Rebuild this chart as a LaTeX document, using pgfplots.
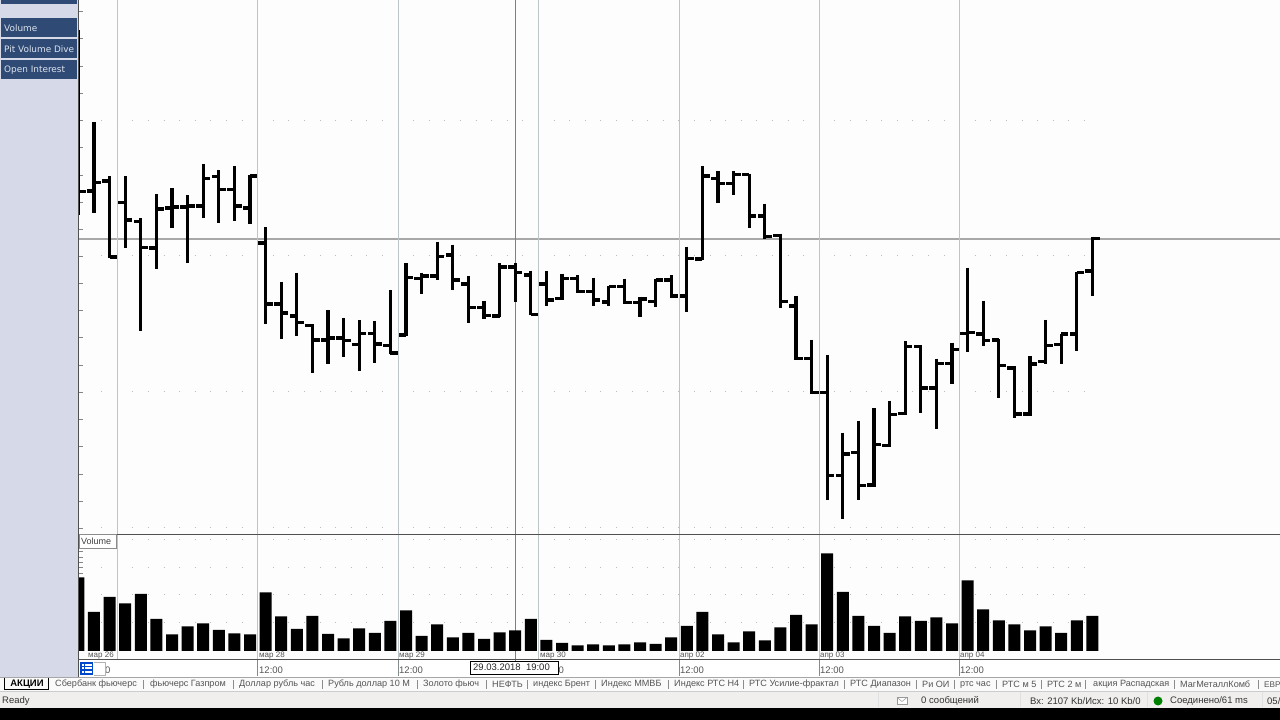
\documentclass[border=0pt]{standalone}
\usepackage{fontspec}
\setmainfont{Liberation Sans}
\newfontfamily\uifont{DejaVu Sans}
\usepackage{pgfplots}
\usepackage{pgfplotstable}
\pgfplotsset{compat=1.18}

\definecolor{panel}{HTML}{D5D9E8}
\definecolor{btn}{HTML}{2F4B75}
\definecolor{btntext}{HTML}{DCE3EE}
\definecolor{chartbg}{HTML}{FDFDFD}
\definecolor{gridv}{HTML}{BCC6C6}
\definecolor{cross}{HTML}{A8A8A8}
\definecolor{frameline}{HTML}{505050}
\definecolor{dots}{HTML}{BDBDBD}
\definecolor{tabtext}{HTML}{555555}
\definecolor{statusbg}{HTML}{F0EFEE}

% bars, prices in pixel rows of the chart (smaller = higher)
\pgfplotstableread{
i o h l c
0 191 30 215 191.5
1 191 122.5 213 182.5
2 181 176 258 257
3 202.5 176.5 248 220
4 221.5 218 331 247.5
5 248 194 269 209
6 208 188 228 207
7 207 195 263 206
8 206 164 218 178.5
9 176.5 170.5 223 189.5
10 189.5 166.5 221 206
11 208 175 224 176
12 243 227 324 304
13 304 281.5 338.5 313
14 316 272.5 336 322.5
15 325.5 324 372.5 340
16 340 310 364 338
17 338 318 357 340.5
18 344.5 320 371 333.5
19 333.5 321 363 344
20 345.5 290 354 353
21 335 263 335.5 277.5
22 278.5 272.5 294 276
23 276 241.5 280 256.5
24 255 244.5 290 280
25 284 276 322.5 307.5
26 307.5 300.5 319 315.5
27 316 263 316.5 267
28 267 263 301.5 272.5
29 275 270.5 315 314.5
30 284 271 305.5 300
31 298.5 273.5 300 278.5
32 278.5 275 292.5 291.5
33 291.5 277.5 305.5 300
34 302 286 305.5 286.5
35 286.5 278.5 304 302.5
36 302.5 296.5 316.5 299
37 301.5 278.5 306.5 280
38 280 275 297.5 296
39 296 246.5 311.5 258.5
40 259 166 259.5 176
41 178.5 171 202.5 183.5
42 183.5 171.5 195 174.5
43 174.5 174 227.5 216
44 216 203.5 238.5 236.5
45 235.5 233.5 307.5 301.5
46 306 295.5 359.5 358.5
47 358.5 339.5 393.5 392.5
48 392.5 354.5 499.5 475.5
49 475.5 432.5 519 454
50 452.5 420.5 499.5 485.5
51 485 408 486.5 444.5
52 445.5 400.5 446.5 414.5
53 413.5 341 414.5 346.5
54 346.5 345 412.5 388
55 388 358.5 428.5 363.5
56 363.5 342.5 384 349.5
57 333.5 267.5 352 332.5
58 334 300.5 345.5 340.5
59 340 339 398 365.5
60 368 366 418 414
61 414 356 415.5 364
62 361.5 319.5 363.5 345.5
63 344.5 333.5 363.5 334
64 334 271.5 350.5 272.5
65 271 236.5 296 238.5
}\ohlc

% volume, height of each bar in pixels above the baseline
\pgfplotstableread{
i v
0 73.5
1 39
2 54
3 47.5
4 57
5 32
6 16.5
7 24.5
8 27.5
9 21
10 17.5
11 16.5
12 58.5
13 34.5
14 22
15 35
16 17
17 12.5
18 22.5
19 18
20 30
21 40.5
22 15
23 26.5
24 13.5
25 18
26 12
27 18.5
28 20.5
29 32
30 11
31 8
32 5.5
33 6.5
34 5.5
35 6.5
36 8.5
37 7
38 13.5
39 25
40 39
41 16.5
42 8.5
43 19.5
44 10.5
45 23.5
46 36
47 26.5
48 97.5
49 59
50 35
51 25
52 18
53 34.5
54 30
55 33.5
56 27.5
57 70.5
58 41.5
59 30.5
60 26.5
61 20.5
62 24.5
63 18
64 30.5
65 35
}\volumes

\pgfplotsset{
  pane/.style={
    x=15.6pt, y=1pt,
    xmin=0.0385, xmax=77.03,
    scale only axis,
    axis line style={draw=none},
    xtick={2.5,11.5,20.5,29.5,38.5,47.5,56.5},
    xticklabels={},
    yticklabels={},
    xmajorgrids=true,
    grid style={gridv, line width=0.8pt},
    x tick style={draw=none},
    y tick style={frameline!70, line width=0.6pt},
    major tick length=4pt,
    tick align=inside,
    ytick pos=left,
    xtick pos=bottom,
    clip=true,
  },
}

\begin{document}
\begin{tikzpicture}[x=1pt,y=1pt]
\useasboundingbox (0,0) rectangle (1280,720);

\begin{scope}[shift={(0pt,720pt)},y=-1pt]
  % backgrounds
  \fill[chartbg] (79,0) rectangle (1280,660);
  \fill[white] (79,660) rectangle (1280,677);
  \fill[panel] (0,0) rectangle (79,677);
  \fill[white!98!black] (0,677) rectangle (1280,691);
  \fill[statusbg] (0,691) rectangle (1280,708);
  \fill[black] (0,708) rectangle (1280,720);

  % buttons of the left panel
  \fill[btn] (1,0) rectangle (77,4);
  \fill[btn] (1,18) rectangle (77,37);
  \fill[btn] (1,39) rectangle (77,58);
  \fill[btn] (1,60) rectangle (77,79);
  \begin{scope}[every node/.style={anchor=west, inner sep=0pt, text=btntext, font=\uifont\fontsize{8.9}{10}\selectfont}]
    \node at (4,28) {Volume};
    \node at (4,49) {Pit Volume Dive};
    \node at (4,70) {Open Interest};
  \end{scope}

  % dotted levels
  \foreach \yy in {120.5,256,392,528,540,567.5,595,622.5}
    \draw[dots, line width=1pt, dash pattern=on 1pt off 14.6pt] (101.2,\yy) -- (1086,\yy);

  % crosshair
  \draw[cross, line width=1.2pt] (79,239) -- (1280,239);
  \draw[black!50, line width=1pt] (515,0) -- (515,661);

  % 12:00 lines through the time strip
  \foreach \xx in {257.8,398.2,678.9,819.3,959.7}
    \draw[gridv!70!black, line width=0.8pt] (\xx,660) -- (\xx,676);
\end{scope}

% price pane
\begin{axis}[pane, at={(79pt,185pt)}, anchor=south west,
    y dir=reverse, ymin=0, ymax=535,
    ytick={11,38,66,93,120.5,147.7,175,202,229,256,283,310.5,337.7,365,392,419,446,474,501,528}]
  \addplot[draw=none, mark=none, forget plot,
    error bars/.cd, y dir=plus, y explicit, error mark=none,
    error bar style={draw=black, line width=3.3pt}]
    table[x=i, y=h, y error expr=\thisrow{l}-\thisrow{h}] {\ohlc};
  \addplot[draw=none, mark=none, forget plot,
    error bars/.cd, x dir=minus, x fixed=0.46, error mark=none,
    error bar style={draw=black, line width=3.1pt}]
    table[x=i, y=o] {\ohlc};
  \addplot[draw=none, mark=none, forget plot,
    error bars/.cd, x dir=plus, x fixed=0.46, error mark=none,
    error bar style={draw=black, line width=3.1pt}]
    table[x=i, y=c] {\ohlc};
\end{axis}

% volume pane
\begin{axis}[pane, at={(79pt,60pt)}, anchor=south west,
    ymin=-9, ymax=116,
    ytick={7,12.5,18,23,29,34,40,45.5,51,56,61,66.5,72,77.5,83.5,89,94,99.5}]
  \addplot[ybar, bar width=12pt, fill=black, draw=none, forget plot]
    table[x=i, y=v] {\volumes};
\end{axis}

\begin{scope}[shift={(0pt,720pt)},y=-1pt]
  % frame lines
  \draw[frameline, line width=1pt] (79,535) -- (1280,535);
  \draw[frameline, line width=1pt] (79,660) -- (1280,660);
  \draw[frameline, line width=1pt] (78.5,0) -- (78.5,677);
  \draw[black!35, line width=0.8pt] (0,677) -- (1280,677);
  \draw[black!20, line width=0.6pt] (0,691) -- (1280,691);

  % pane caption
  \draw[black!45, fill=white, line width=0.8pt] (79.5,534.5) rectangle (116,548);
  \node[anchor=west, inner sep=0pt, text=black!75, font=\fontsize{9}{10}\selectfont] at (81,541) {Volume};

  % day labels in the volume pane
  \begin{scope}[every node/.style={anchor=west, inner sep=0pt, text=tabtext, font=\fontsize{8}{9}\selectfont}]
    \node at (88,656) {мар 26};
    \node at (259,656) {мар 28};
    \node at (399,656) {мар 29};
    \node at (540,656) {мар 30};
    \node at (680,656) {апр 02};
    \node at (820,656) {апр 03};
    \node at (960,656) {апр 04};
  \end{scope}

  % time strip
  \begin{scope}[every node/.style={anchor=west, inner sep=0pt, text=tabtext, font=\fontsize{9.5}{10}\selectfont}]
    \node at (105,670) {0};
    \node at (259,670) {12:00};
    \node at (399,670) {12:00};
    \node at (558.5,670) {0};
    \node at (680,670) {12:00};
    \node at (820,670) {12:00};
    \node at (960,670) {12:00};
  \end{scope}
  \fill[blue!65!cyan!80!black] (80,662) rectangle (93,675);
  \foreach \yy in {665,668.5,672} {
    \fill[white] (81.5,\yy-1) rectangle (83.5,\yy+1);
    \fill[white] (85,\yy-1) rectangle (91.5,\yy+1);
  }
  \draw[black!30, line width=0.6pt] (94,662) -- (105,662) -- (105,675) -- (94,675);
  \draw[black, fill=white, line width=0.8pt] (470.5,661.5) rectangle (558,674.5);
  \node[anchor=west, inner sep=0pt, text=black!85, font=\fontsize{9.5}{10}\selectfont] at (473,667.5) {29.03.2018\ \ 19:00};

  % sheet tabs
  \draw[black, line width=0.8pt] (4,678) -- (4,689.5) -- (48,689.5) -- (48,678);
  \node[inner sep=0pt, text=black, font=\bfseries\fontsize{9.5}{10}\selectfont] at (27,684.5) {АКЦИИ};
  \foreach \tx/\tab in {55/Сбербанк фьючерс,150/фьючерс Газпром,239/Доллар рубль час,328/Рубль доллар 10 М,
      423/Золото фьюч,492/НЕФТЬ,533/индекс Брент,601/Индекс ММВБ,674/Индекс РТС Н4,749/РТС Усилие-фрактал,
      850/РТС Диапазон,922/Ри ОИ,960/ртс час,1002/РТС м 5,1047/РТС 2 м,1093/акция Распадская,1180/МагМеталлКомб}
    \node[anchor=west, inner sep=0pt, text=tabtext, font=\fontsize{9.1}{10}\selectfont] at (\tx,684.5) {\tab};
  \node[anchor=west, inner sep=0pt, text=tabtext, font=\fontsize{8.2}{10}\selectfont] at (1264,684.5) {ЕВР};
  \foreach \sx in {143,233,322,417,486,527,595,668,743,844,916,954,996,1041,1085,1174,1258}
    \draw[black!45, line width=0.6pt] (\sx,680) -- (\sx,689);

  % status bar
  \begin{scope}[every node/.style={anchor=west, inner sep=0pt, text=black!80, font=\fontsize{9.5}{10}\selectfont}]
    \node at (2,701) {Ready};
    \node at (921,701) {0 сообщений};
    \node at (1030,701) {Вх: 2107 Kb/Исх: 10 Kb/0};
    \node at (1170,701) {Соединено/61 ms};
    \node at (1267,701) {05/};
  \end{scope}
  \draw[black!40, fill=white, line width=0.5pt] (897,697.5) rectangle (907,704.5);
  \draw[black!40, line width=0.5pt] (897,697.5) -- (902,701.5) -- (907,697.5);
  \fill[green!50!black] (1158,701) circle (4.5);
  \foreach \sx in {878,1020,1147,1262}
    \draw[black!12, line width=0.8pt] (\sx,692) -- (\sx,707);
\end{scope}
\end{tikzpicture}
\end{document}
